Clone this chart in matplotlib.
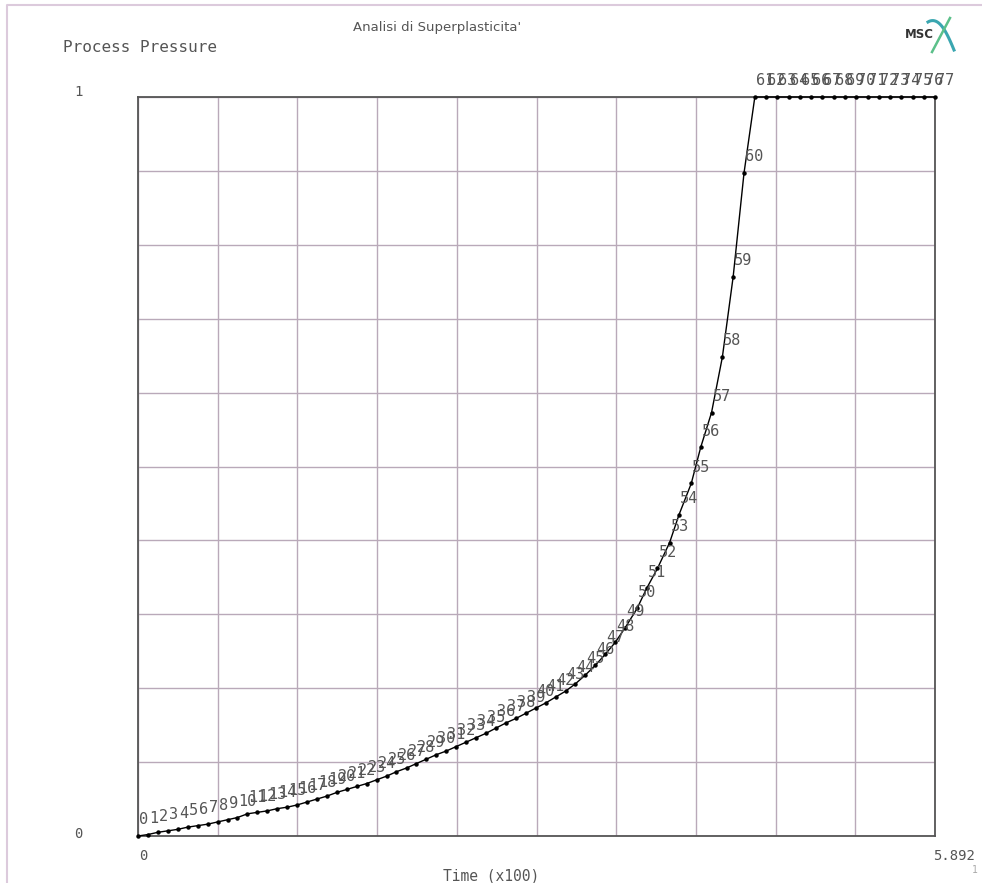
import numpy as np
import matplotlib
matplotlib.use("Agg")
import matplotlib.pyplot as plt

# time (x100) and process pressure, one entry per increment 0..77
time = [0.000, 0.074, 0.147, 0.221, 0.294, 0.368, 0.441, 0.515, 0.588, 0.662,
        0.735, 0.809, 0.882, 0.956, 1.029, 1.103, 1.176, 1.250, 1.323, 1.397,
        1.470, 1.544, 1.617, 1.691, 1.764, 1.838, 1.911, 1.985, 2.058, 2.132,
        2.205, 2.279, 2.352, 2.426, 2.499, 2.573, 2.646, 2.720, 2.793, 2.867,
        2.940, 3.014, 3.087, 3.161, 3.234, 3.308, 3.381, 3.455, 3.528, 3.602,
        3.690, 3.760, 3.840, 3.930, 4.000, 4.090, 4.160, 4.240, 4.320, 4.400,
        4.480, 4.560, 4.643, 4.727, 4.810, 4.893, 4.977, 5.060, 5.143, 5.227,
        5.310, 5.393, 5.477, 5.560, 5.643, 5.727, 5.810, 5.892]

pressure = [0.000, 0.002, 0.005, 0.007, 0.009, 0.012, 0.014, 0.016, 0.019, 0.022,
            0.025, 0.030, 0.032, 0.034, 0.037, 0.039, 0.042, 0.046, 0.050, 0.054,
            0.059, 0.063, 0.067, 0.071, 0.076, 0.081, 0.087, 0.092, 0.098, 0.104,
            0.110, 0.115, 0.121, 0.127, 0.133, 0.139, 0.146, 0.153, 0.159, 0.166,
            0.173, 0.180, 0.188, 0.196, 0.206, 0.218, 0.231, 0.246, 0.262, 0.282,
            0.308, 0.335, 0.362, 0.397, 0.435, 0.477, 0.526, 0.573, 0.648, 0.757,
            0.897, 1.000, 1.000, 1.000, 1.000, 1.000, 1.000, 1.000, 1.000, 1.000,
            1.000, 1.000, 1.000, 1.000, 1.000, 1.000, 1.000, 1.000]

increments = [str(i) for i in range(len(time))]

x_max = 5.892
title = "Analisi di Superplasticita'"
y_title = "Process Pressure"
x_title = "Time (x100)"

W, H = 982, 883
fig = plt.figure(figsize=(W / 100, H / 100), dpi=100)
fig.patch.set_facecolor("white")

# plot area in pixels: x 138..935, y 97..836
ax = fig.add_axes([138 / W, (H - 836) / H, (935 - 138) / W, (836 - 97) / H])
ax.set_xlim(0, x_max)
ax.set_ylim(0, 1)
ax.set_xticks(np.linspace(0, x_max, 11))
ax.set_yticks(np.linspace(0, 1, 11))
ax.set_xticklabels([])
ax.set_yticklabels([])
ax.tick_params(length=0)
ax.grid(True, color="#b9a9b9", lw=1.0)
ax.set_axisbelow(True)
for s in ax.spines.values():
    s.set_color("#555555")
    s.set_linewidth(1.3)

ax.plot(time, pressure, color="black", lw=1.0, marker="o", ms=2.2,
        mfc="black", mec="black", clip_on=False, zorder=3)

for t, p, lab in zip(time, pressure, increments):
    ax.annotate(lab, (t, p), xytext=(0.7, 6.3), textcoords="offset points",
                ha="left", va="bottom", fontsize=11, family="DejaVu Sans Mono",
                color="#555555", annotation_clip=False, zorder=4)

mono = "DejaVu Sans Mono"
tc = "#555555"
# axis end labels
ax.annotate("1", (0, 1), xytext=(-60, 5), textcoords="offset pixels",
            ha="center", va="center", fontsize=10, family=mono, color=tc,
            annotation_clip=False)
ax.annotate("0", (0, 0), xytext=(-60, 2), textcoords="offset pixels",
            ha="center", va="center", fontsize=10, family=mono, color=tc,
            annotation_clip=False)
ax.annotate("0", (0, 0), xytext=(5, -20), textcoords="offset pixels",
            ha="center", va="center", fontsize=10, family=mono, color=tc,
            annotation_clip=False)
ax.annotate("5.892", (x_max, 0), xytext=(-2, -20), textcoords="offset pixels",
            ha="left", va="center", fontsize=10, family=mono, color=tc,
            annotation_clip=False)

fig.text(491 / W, 1 - 876 / H, x_title, ha="center", va="center",
         fontsize=10.5, family=mono, color=tc)
fig.text(975 / W, 1 - 870 / H, "1", ha="center", va="center",
         fontsize=7, family=mono, color="#aaaaaa")
fig.text(63 / W, 1 - 47 / H, y_title, ha="left", va="center",
         fontsize=11.5, family=mono, color=tc)
fig.text(437 / W, 1 - 27 / H, title, ha="center", va="center",
         fontsize=9.5, family="DejaVu Sans", color=tc)

# frame and MSC logo drawn in pixel space
deco = fig.add_axes([0, 0, 1, 1], zorder=-1)
deco.set_xlim(0, W)
deco.set_ylim(H, 0)
deco.axis("off")
deco.plot([7, 7, W + 5], [H + 5, 5, 5], color="#dccadc", lw=1.5)

fig.text(919 / W, 1 - 35 / H, "MSC", ha="center", va="center",
         fontsize=8.5, fontweight="bold", family="DejaVu Sans", color="#333333")
top = fig.add_axes([0, 0, 1, 1], zorder=5)
top.set_xlim(0, W)
top.set_ylim(H, 0)
top.axis("off")
a = np.linspace(0, 1, 30)
top.plot(928 + 26 * a, 22 + 28 * a ** 1.6 - 6 * np.sin(np.pi * a), color="#3aa6b0", lw=2.2)
top.plot(950 - 18 * a, 18 + 34 * a, color="#5cc08a", lw=1.8)

fig.savefig("out.png", dpi=100, facecolor="white")
